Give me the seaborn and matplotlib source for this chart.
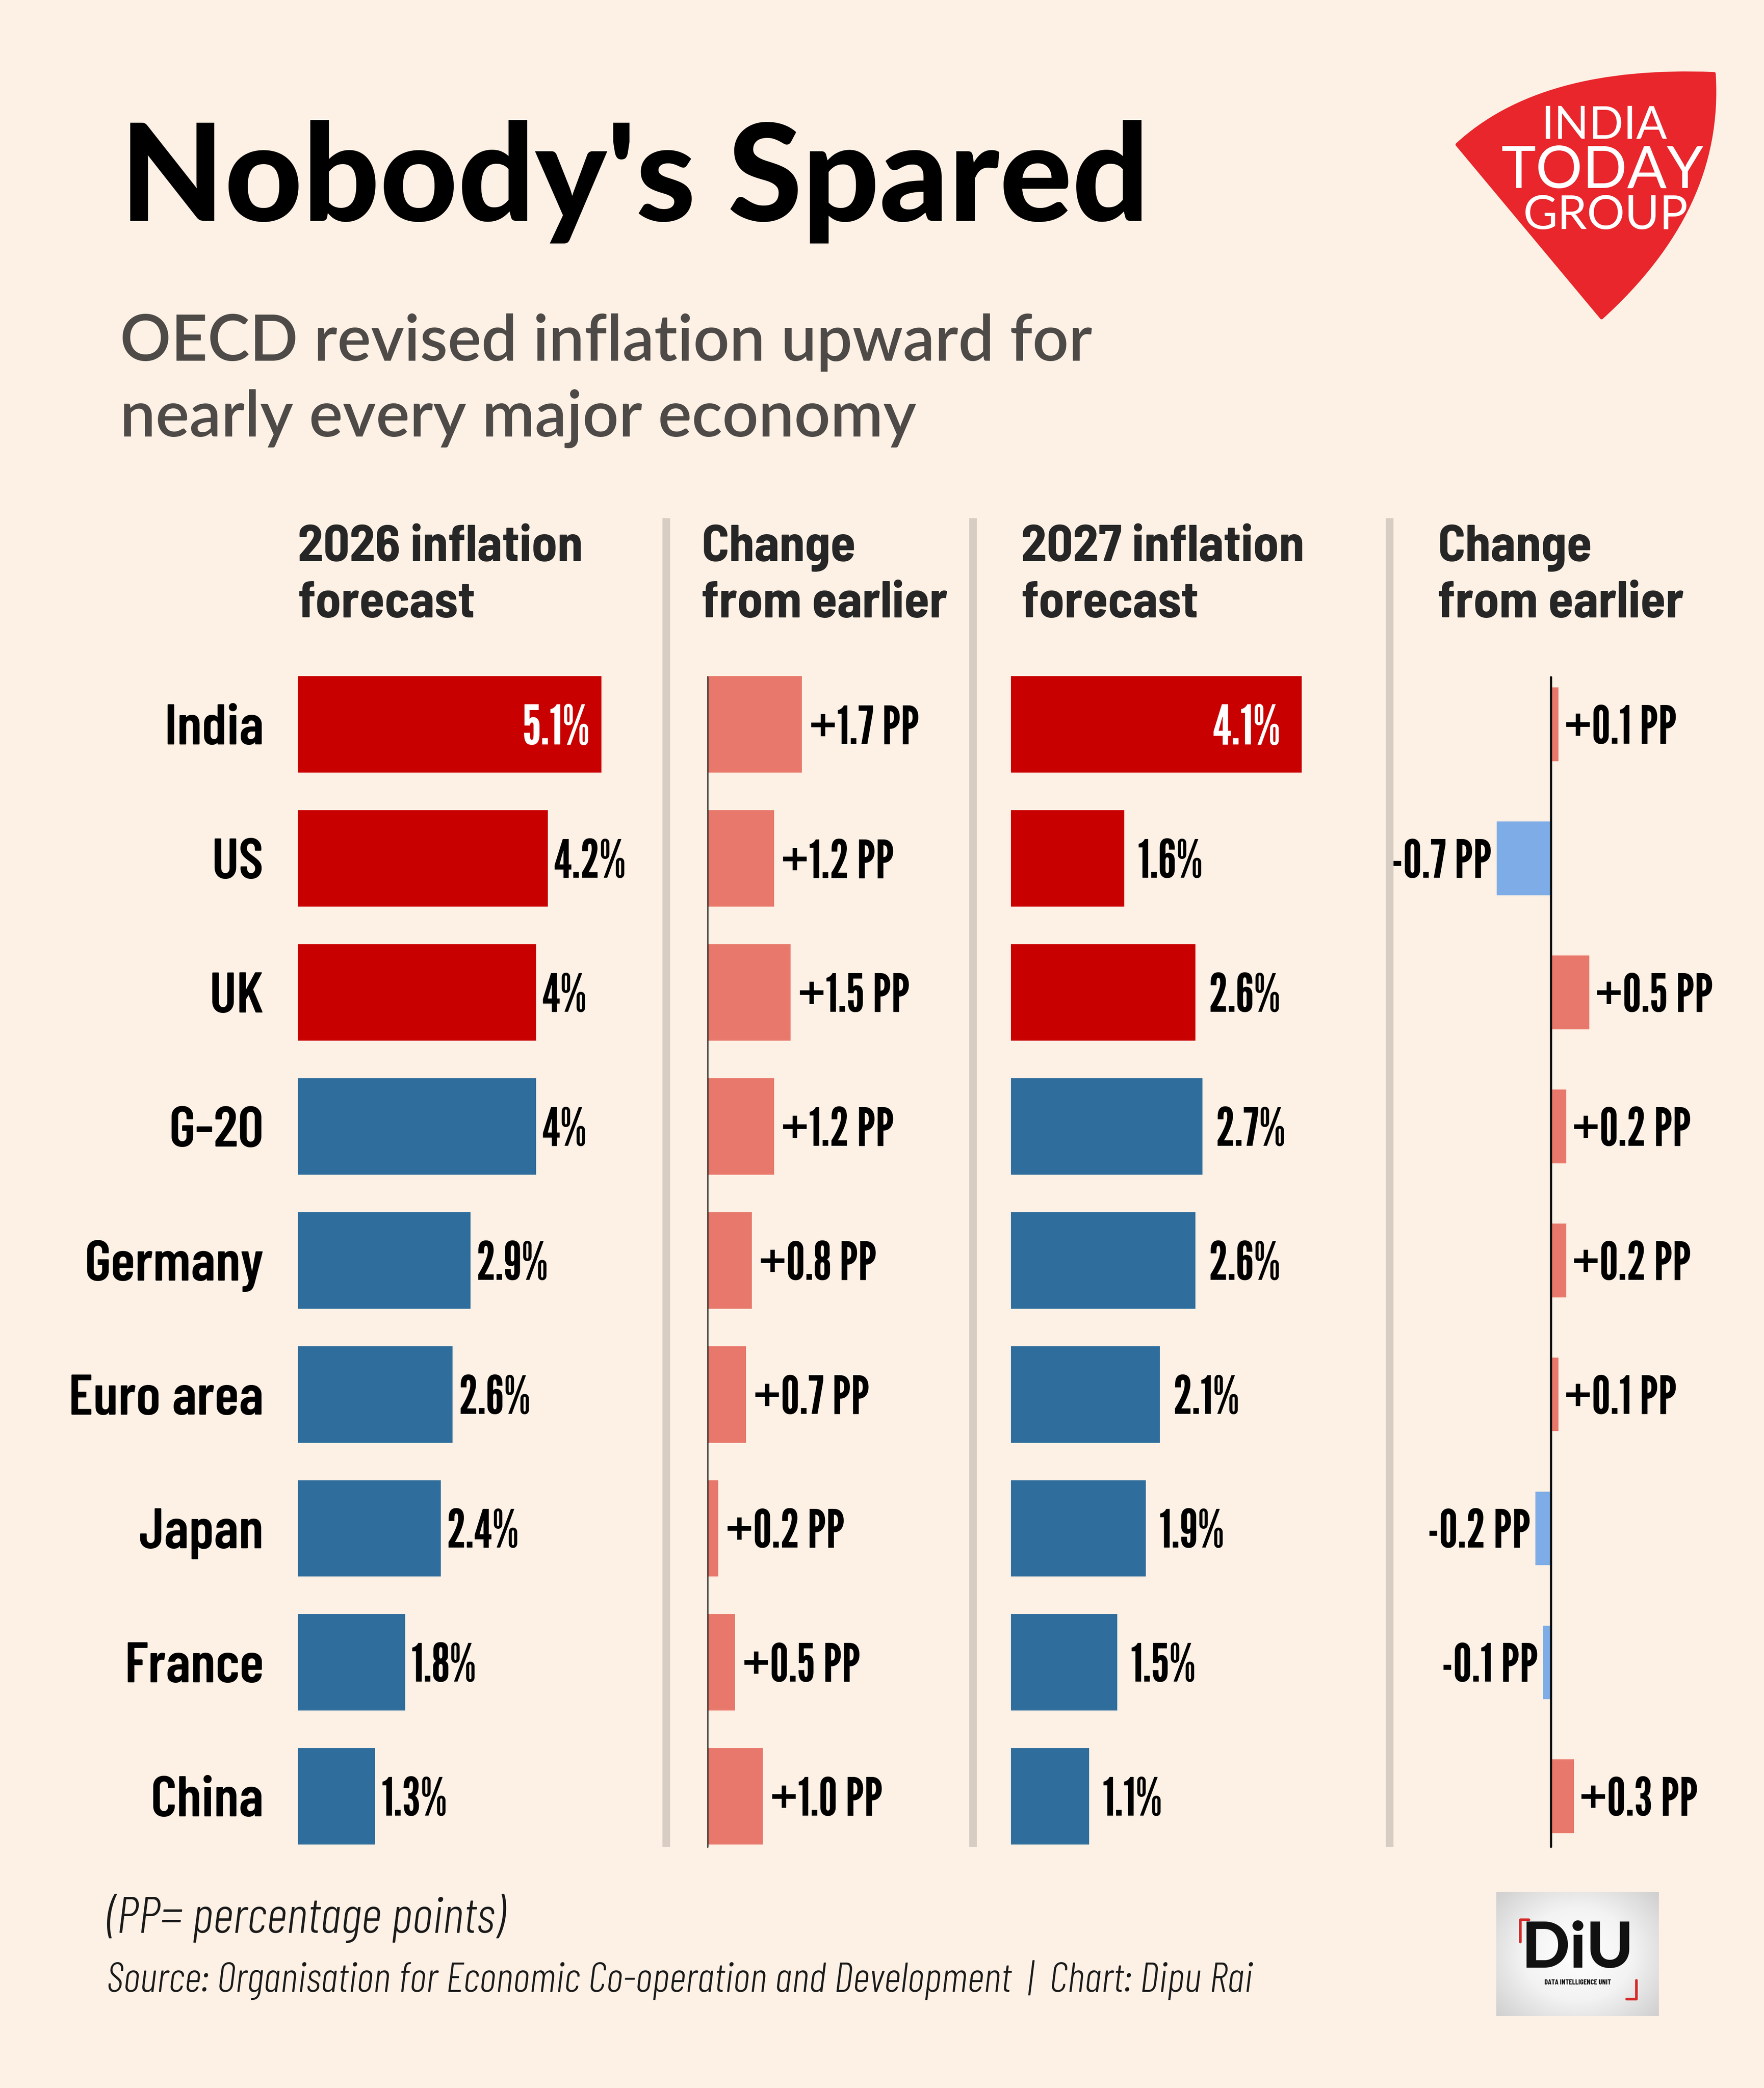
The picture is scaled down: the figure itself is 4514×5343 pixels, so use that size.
import os
import numpy as np
import pandas as pd
import matplotlib
matplotlib.use("Agg")
import matplotlib.pyplot as plt
from matplotlib import font_manager as fm
from matplotlib.path import Path
from matplotlib.patches import PathPatch
from matplotlib.lines import Line2D
from matplotlib.colors import LinearSegmentedColormap
import seaborn as sns

# ---------------- data ----------------
countries = ["India", "US", "UK", "G-20", "Germany", "Euro area", "Japan", "France", "China"]
highlight = ["India", "US", "UK"]
forecast_2026 = [5.1, 4.2, 4.0, 4.0, 2.9, 2.6, 2.4, 1.8, 1.3]
change_2026 = [1.7, 1.2, 1.5, 1.2, 0.8, 0.7, 0.2, 0.5, 1.0]
forecast_2027 = [4.1, 1.6, 2.6, 2.7, 2.6, 2.1, 1.9, 1.5, 1.1]
change_2027 = [0.1, -0.7, 0.5, 0.2, 0.2, 0.1, -0.2, -0.1, 0.3]
labels_f2026 = ["5.1%", "4.2%", "4%", "4%", "2.9%", "2.6%", "2.4%", "1.8%", "1.3%"]
labels_c2026 = ["+1.7 PP", "+1.2 PP", "+1.5 PP", "+1.2 PP", "+0.8 PP", "+0.7 PP", "+0.2 PP", "+0.5 PP", "+1.0 PP"]
labels_f2027 = ["4.1%", "1.6%", "2.6%", "2.7%", "2.6%", "2.1%", "1.9%", "1.5%", "1.1%"]
labels_c2027 = ["+0.1 PP", "-0.7 PP", "+0.5 PP", "+0.2 PP", "+0.2 PP", "+0.1 PP", "-0.2 PP", "-0.1 PP", "+0.3 PP"]
headers = ["2026 inflation\nforecast", "Change\nfrom earlier", "2027 inflation\nforecast", "Change\nfrom earlier"]
title = "Nobody's Spared"
subtitle = ["OECD revised inflation upward for", "nearly every major economy"]
note = "(PP= percentage points)"
source = "Source: Organisation for Economic Co-operation and Development  |  Chart: Dipu Rai"

df = pd.DataFrame({"country": countries, "f26": forecast_2026, "c26": change_2026,
                   "f27": forecast_2027, "c27": change_2027})

# ---------------- style ----------------
BG = "#fdf0e4"
RED = "#c80000"
BLUE = "#2e6d9c"
SALMON = "#e8786c"
LBLUE = "#7dace6"
SEP = "#d7cdc3"

sns.set_style("white", {"axes.facecolor": "none", "figure.facecolor": BG})
plt.rcParams["font.family"] = ["Noto Sans", "DejaVu Sans"]

_files = {}
for f in fm.fontManager.ttflist:
    _files.setdefault(os.path.splitext(os.path.basename(f.fname))[0].lower(), f.fname)


def F(names, size, fallback="DejaVu Sans", weight="normal", style="normal"):
    for n in names:
        p = _files.get(n.lower())
        if p:
            return fm.FontProperties(fname=p, size=size)
    return fm.FontProperties(family=fallback, weight=weight, style=style, size=size)


TITLE_F = ["Lato-Black", "Lato-ExtraBold", "Lato-Bold"]
SUB_F = ["Lato-SemiBold", "Lato-Semibold", "Lato-Medium", "Lato-Bold"]
HEAD_F = ["BarlowSemiCondensed-Bold", "BarlowCondensed-Bold", "DejaVuSansCondensed-Bold"]
ROW_F = ["BarlowCondensed-SemiBold", "BarlowCondensed-Medium", "DejaVuSansCondensed-Bold"]
VAL_F = ["LeagueGothic[wdth]", "LeagueGothic-Regular", "PathwayGothicOne-Regular", "BarlowCondensed-Medium",
         "DejaVuSansCondensed"]
FOOT_F = ["BarlowCondensed-LightItalic", "BarlowCondensed-Italic", "DejaVuSansCondensed-Oblique"]
SMALL_F = ["BarlowCondensed-Bold", "DejaVuSansCondensed-Bold"]
LOGO_F = ["Lato-Regular", "NotoSans-Regular"]

# ---------------- figure ----------------
W, H = 1325.0, 1568.0  # layout grid (scaled reference units)
fig = plt.figure(figsize=(4514 / 300, 5343 / 300), dpi=300)
fig.patch.set_facecolor(BG)


def rect(x0, x1, y0, y1):
    return [x0 / W, 1 - y1 / H, (x1 - x0) / W, (y1 - y0) / H]


def fx(x):
    return x / W


def fy(y):
    return 1 - y / H


ROW_TOP, ROW_BOT = 493.7, 1399.3

pal_main = {c: (RED if c in highlight else BLUE) for c in countries}
pal_c26 = {c: SALMON for c in countries}
pal_c27 = {c: (SALMON if v >= 0 else LBLUE) for c, v in zip(countries, change_2027)}

# column, labels, palette, bar width, x-range, left px, scale px/unit, gap pt, inside pad pt, inside label
panels = [
    ("f26", labels_f2026, pal_main, 0.72, (0, 6.0), 223.8, 44.7, 3.5, 7.0, True),
    ("c26", labels_c2026, pal_c26, 0.72, (0, 3.0), 531.2, 41.8, 4.5, 0, False),
    ("f27", labels_f2027, pal_main, 0.72, (0, 4.5), 759.4, 53.25, 8.0, 13.0, True),
    ("c27", labels_c2027, pal_c27, 0.55, (-1.5, 1.5), 1164.9 - 1.5 * 58, 58.0, 3.5, 0, False),
]

VAL_SIZE = 32.5
for k, (col, labs, pal, bw, xl, x0, sc, gap, inpad, inside) in enumerate(panels):
    x1 = x0 + (xl[1] - xl[0]) * sc
    ax = fig.add_axes(rect(x0, x1, ROW_TOP, ROW_BOT))
    sns.barplot(data=df, x=col, y="country", hue="country", palette=pal, order=countries,
                hue_order=countries, orient="h", width=bw, saturation=1, legend=False,
                errorbar=None, linewidth=0, ax=ax)
    ax.set_xlim(*xl)
    ax.set_ylim(len(countries) - 0.5, -0.5)
    ax.set_xlabel("")
    ax.set_ylabel("")
    for s in ax.spines.values():
        s.set_visible(False)
    ax.set_xticks([])
    ax.patch.set_alpha(0)
    if k == 0:
        ax.tick_params(axis="y", length=0, pad=21)
        for t in ax.get_yticklabels():
            t.set_fontproperties(F(ROW_F, 35))
            t.set_color("#000000")
    else:
        ax.set_yticks([])
    if col.startswith("c"):
        ax.axvline(0, ymin=(ROW_BOT - 1387) / (ROW_BOT - ROW_TOP), ymax=(ROW_BOT - 508.5) / (ROW_BOT - ROW_TOP),
                   color="#111111", lw=1.4, zorder=5)
    vals = df[col].tolist()
    vmax = max(vals)
    for i, (v, t) in enumerate(zip(vals, labs)):
        if inside and v == vmax:
            ax.annotate(t, (v, i), xytext=(-inpad, 0), textcoords="offset points", ha="right",
                        va="center_baseline", color="white", fontproperties=F(VAL_F, VAL_SIZE + 1),
                        annotation_clip=False)
        elif v < 0:
            ax.annotate(t, (v, i), xytext=(-gap + 0.5, 0), textcoords="offset points", ha="right",
                        va="center_baseline", color="#000000", fontproperties=F(VAL_F, VAL_SIZE),
                        annotation_clip=False)
        else:
            ax.annotate(t, (v, i), xytext=(gap, 0), textcoords="offset points", ha="left",
                        va="center_baseline", color="#000000", fontproperties=F(VAL_F, VAL_SIZE),
                        annotation_clip=False)

# column separators
for xs in (500.4, 731.0, 1043.7):
    fig.add_artist(Line2D([fx(xs), fx(xs)], [fy(389), fy(1387)], transform=fig.transFigure,
                          color=SEP, lw=4.7, solid_capstyle="butt"))

# column headers
for hx, htxt in zip((223.8, 527.0, 767.0, 1080.0), headers):
    l1, l2 = htxt.split("\n")
    fig.text(fx(hx), fy(421.5), l1, ha="left", va="baseline", fontproperties=F(HEAD_F, 31.5))
    fig.text(fx(hx), fy(463.7), l2, ha="left", va="baseline", fontproperties=F(HEAD_F, 31.5))

# title / subtitle
fig.text(fx(90), fy(165.8), title, ha="left", va="baseline", color="#000000",
         fontproperties=F(TITLE_F, 83, weight="bold"))
fig.text(fx(90), fy(270.8), subtitle[0], ha="left", va="baseline", color="#4e4a47",
         fontproperties=F(SUB_F, 39))
fig.text(fx(90), fy(327.9), subtitle[1], ha="left", va="baseline", color="#4e4a47",
         fontproperties=F(SUB_F, 39))

# footer
fig.text(fx(80), fy(1451.5), note, ha="left", va="baseline", color="#1a1a1a",
         fontproperties=F(FOOT_F, 31.5, style="italic"))
fig.text(fx(80), fy(1495.8), source, ha="left", va="baseline", color="#1a1a1a",
         fontproperties=F(FOOT_F, 25.8, style="italic"))

# India Today Group logo (decorative)
verts = [(1094.5, 108.6), (1158.0, 50.0), (1287.5, 55.3), (1292.0, 125.0), (1262.0, 185.0),
         (1203.0, 238.6), (1094.5, 108.6), (1094.5, 108.6)]
codes = [Path.MOVETO, Path.CURVE3, Path.CURVE3, Path.CURVE4, Path.CURVE4, Path.CURVE4,
         Path.LINETO, Path.CLOSEPOLY]
logo = PathPatch(Path([(fx(a), fy(b)) for a, b in verts], codes), transform=fig.transFigure,
                 facecolor="#e8262c", edgecolor="#e8262c", lw=2, joinstyle="round")
fig.add_artist(logo)
for txt, cx, cy, sz in (("INDIA", 1205, 94.5, 28), ("TODAY", 1203.5, 128.7, 36), ("GROUP", 1206, 162, 29)):
    fig.text(fx(cx), fy(cy), txt, ha="center", va="center", color="white",
             fontproperties=F(LOGO_F, sz))

# DIU badge (decorative)
bax = fig.add_axes(rect(1124, 1246, 1421, 1514))
gx, gy = np.meshgrid(np.linspace(-1, 1, 200), np.linspace(-1, 1, 160))
grad = np.sqrt((gx * 1.0) ** 2 + (gy * 0.9) ** 2)
cmap = LinearSegmentedColormap.from_list("g", ["#ffffff", "#f3f3f3", "#cfcfcf"])
bax.imshow(grad, cmap=cmap, aspect="auto", extent=(0, 1, 0, 1))
bax.set_xlim(0, 1)
bax.set_ylim(0, 1)
bax.axis("off")
bax.text(0.5, 0.54, "DiU", ha="center", va="center", color="#111111",
         fontproperties=F(TITLE_F, 39, weight="bold"), transform=bax.transAxes)
bax.text(0.5, 0.27, "DATA INTELLIGENCE UNIT", ha="center", va="center", color="#111111",
         fontproperties=F(SMALL_F, 4.5), transform=bax.transAxes)
bax.plot([0.145, 0.145, 0.2], [0.6, 0.78, 0.78], color="#d62828", lw=1.6, transform=bax.transAxes)
bax.plot([0.86, 0.86, 0.80], [0.29, 0.14, 0.14], color="#d62828", lw=1.6, transform=bax.transAxes)

fig.savefig("out.png", dpi=300, facecolor=BG)
